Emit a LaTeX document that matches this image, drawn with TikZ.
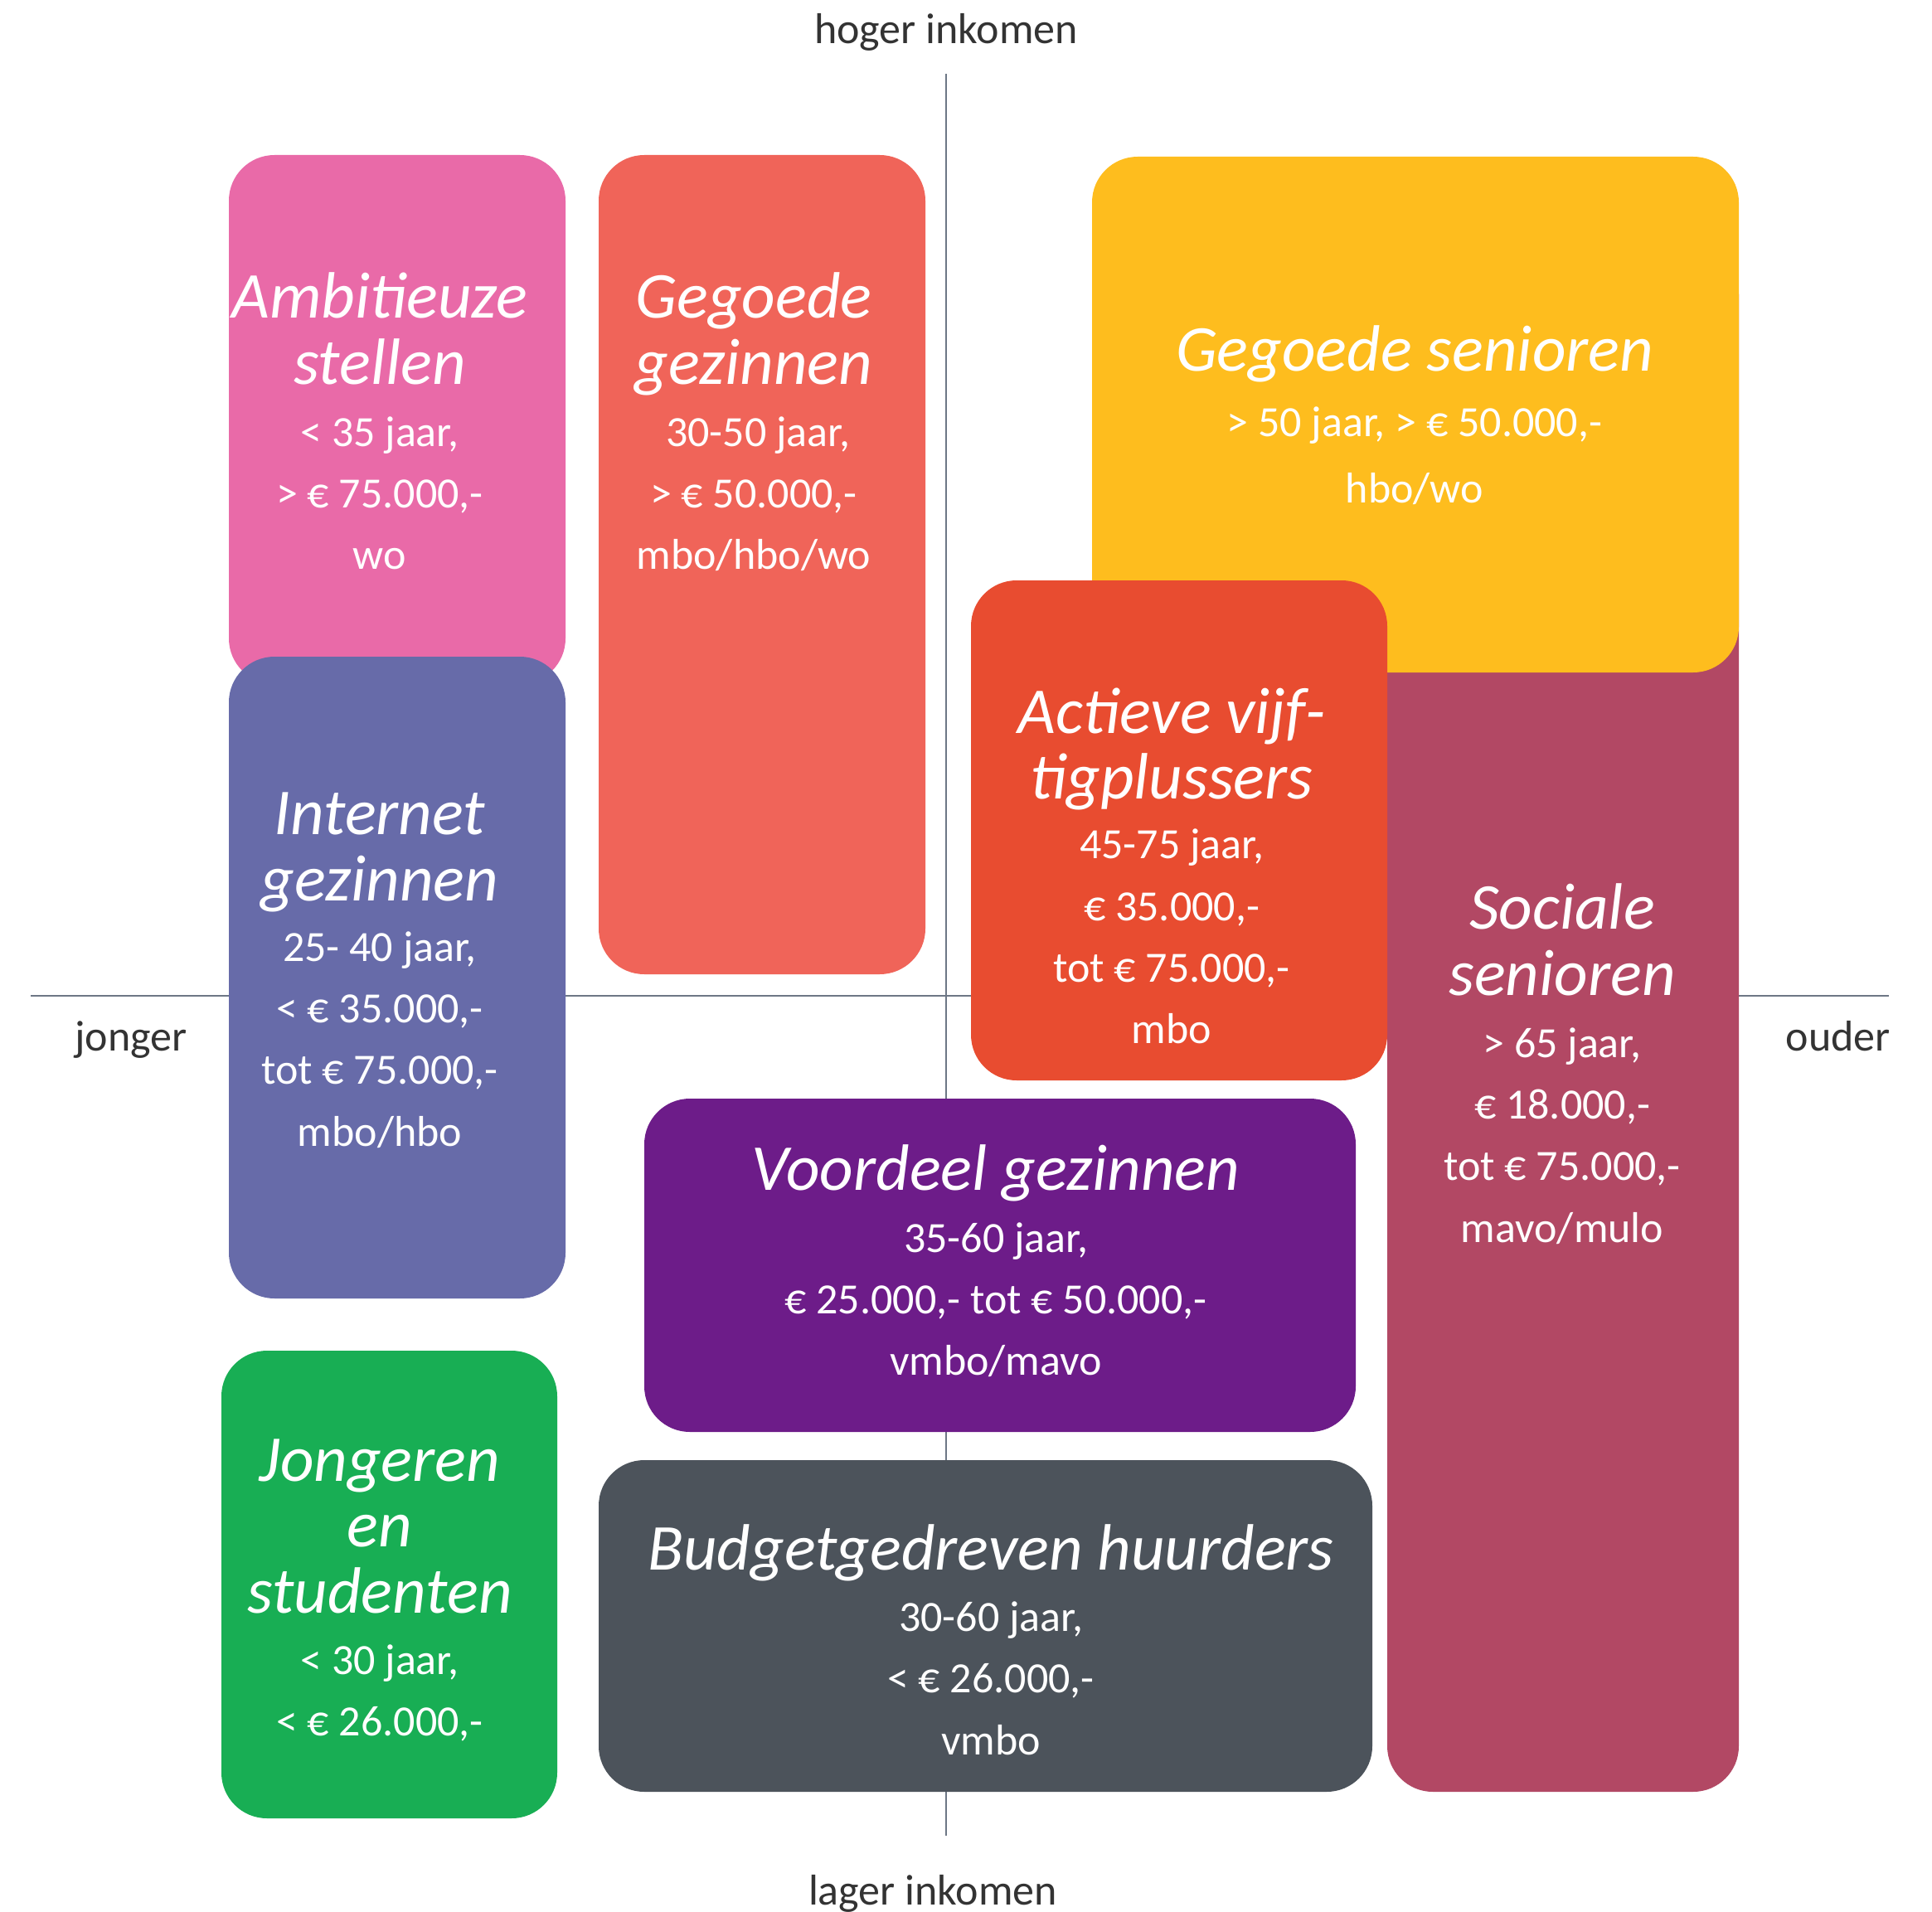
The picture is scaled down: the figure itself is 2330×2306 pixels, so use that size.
\documentclass[tikz,border=0pt]{standalone}
\usepackage{fontspec}
\setmainfont{Carlito}
\definecolor{cpink}{HTML}{E96AA8}
\definecolor{cblue}{HTML}{676BA9}
\definecolor{csalmon}{HTML}{F06459}
\definecolor{cyellow}{HTML}{FEBD1E}
\definecolor{csocial}{HTML}{B24864}
\definecolor{cactive}{HTML}{E84C30}
\definecolor{cpurple}{HTML}{6D1C89}
\definecolor{cgray}{HTML}{4C535B}
\definecolor{cgreen}{HTML}{18AE54}
\definecolor{caxis}{HTML}{6D7785}
\definecolor{clabel}{HTML}{333333}
\begin{document}
\begin{tikzpicture}[x=1pt,y=-1pt,
  box/.style={rectangle, rounded corners=55pt, inner sep=0pt, draw=none},
  tt/.style={text=white, font=\fontsize{79}{83}\selectfont\itshape, inner sep=0pt, text height=51pt, text depth=0pt},
  bd/.style={text=white, font=\fontsize{52}{56}\selectfont, inner sep=0pt, text height=33pt, text depth=0pt},
  lbl/.style={text=clabel, font=\fontsize{52}{56}\selectfont, inner sep=0pt, text height=33pt, text depth=0pt},
  axis/.style={draw=caxis, line width=2.5pt}]
\useasboundingbox (0,0) rectangle (2330,2306);
% axes
\coordinate (vt) at (1141,89);
\coordinate (vb) at (1141,2214);
\coordinate (hl) at (37,1201);
\coordinate (hr) at (2278,1201);
\draw[axis] (vt) -- (vb);
\draw[axis] (hl) -- (hr);
% axis labels
\node[lbl] (lhoog) at (1141,36) {hoger inkomen};
\node[lbl] (llaag) at (1125,2281) {lager inkomen};
\node[lbl] (ljong) at (158,1251) {jonger};
\node[lbl] (loud) at (2217,1251) {ouder};
% boxes
\node[box, fill=cpink, minimum width=406pt, minimum height=638pt] (pink) at (479,506) {};
\node[box, fill=cblue, minimum width=406pt, minimum height=774pt] (blue) at (479,1179) {};
\node[box, fill=csalmon, minimum width=394pt, minimum height=988pt] (salmon) at (919,681) {};
\node[box, fill=csocial, minimum width=424pt, minimum height=1861pt] (social) at (1885,1230.5) {};
\node[box, fill=cyellow, minimum width=780pt, minimum height=622pt] (yellow) at (1707,500) {};
\node[box, fill=cactive, minimum width=502pt, minimum height=603pt] (active) at (1422,1001.5) {};
\node[box, fill=cpurple, minimum width=858pt, minimum height=402pt] (purple) at (1206,1526) {};
\node[box, fill=cgray, minimum width=933pt, minimum height=400pt] (gray) at (1188.5,1961) {};
\node[box, fill=cgreen, minimum width=405pt, minimum height=564pt] (green) at (469.5,1911) {};
% Ambitieuze stellen
\node[tt] (a1) at (458,358) {Ambitieuze};
\node[tt] (a2) at (458,438) {stellen};
\node[bd] (a3) at (458,522) {< 35 jaar,};
\node[bd] (a4) at (458,596) {> € 75.000,-};
\node[bd] (a5) at (458,670) {wo};
% Gegoede gezinnen
\node[tt] (g1) at (909,358) {Gegoede};
\node[tt] (g2) at (909,438) {gezinnen};
\node[bd] (g3) at (914,522) {30-50 jaar,};
\node[bd] (g4) at (909,596) {> € 50.000,-};
\node[bd] (g5) at (909,670) {mbo/hbo/wo};
% Gegoede senioren
\node[tt] (s1) at (1706,422) {Gegoede senioren};
\node[bd] (s2) at (1706,510) {> 50 jaar, > € 50.000,-};
\node[bd] (s3) at (1706,590) {hbo/wo};
% Actieve vijftigplussers
\node[tt] (v1) at (1413,859) {Actieve vijf-};
\node[tt] (v2) at (1413,938) {tigplussers};
\node[bd] (v3) at (1413,1019) {45-75 jaar,};
\node[bd] (v4) at (1413,1094) {€ 35.000,-};
\node[bd] (v5) at (1413,1168) {tot € 75.000,-};
\node[bd] (v6) at (1413,1242) {mbo};
% Internet gezinnen
\node[tt] (i1) at (458,981) {Internet};
\node[tt] (i2) at (458,1061) {gezinnen};
\node[bd] (i3) at (458,1143) {25- 40 jaar,};
\node[bd] (i4) at (458,1217) {< € 35.000,-};
\node[bd] (i5) at (458,1291) {tot € 75.000,-};
\node[bd] (i6) at (458,1366) {mbo/hbo};
% Sociale senioren
\node[tt] (o1) at (1884,1095) {Sociale};
\node[tt] (o2) at (1884,1175) {senioren};
\node[bd] (o3) at (1884,1259) {> 65 jaar,};
\node[bd] (o4) at (1884,1333) {€ 18.000,-};
\node[bd] (o5) at (1884,1407) {tot € 75.000,-};
\node[bd] (o6) at (1884,1482) {mavo/mulo};
% Voordeel gezinnen
\node[tt] (p1) at (1201,1410) {Voordeel gezinnen};
\node[bd] (p2) at (1201,1494) {35-60 jaar,};
\node[bd] (p3) at (1201,1568) {€ 25.000,- tot € 50.000,-};
\node[bd] (p4) at (1201,1642) {vmbo/mavo};
% Budgetgedreven huurders
\node[tt] (b1) at (1195,1868) {Budgetgedreven huurders};
\node[bd] (b2) at (1195,1951) {30-60 jaar,};
\node[bd] (b3) at (1195,2025) {< € 26.000,-};
\node[bd] (b4) at (1195,2100) {vmbo};
% Jongeren en studenten
\node[tt] (j1) at (458,1761) {Jongeren};
\node[tt] (j2) at (458,1840) {en};
\node[tt] (j3) at (458,1920) {studenten};
\node[bd] (j4) at (458,2003) {< 30 jaar,};
\node[bd] (j5) at (458,2077) {< € 26.000,-};
\end{tikzpicture}
\end{document}
